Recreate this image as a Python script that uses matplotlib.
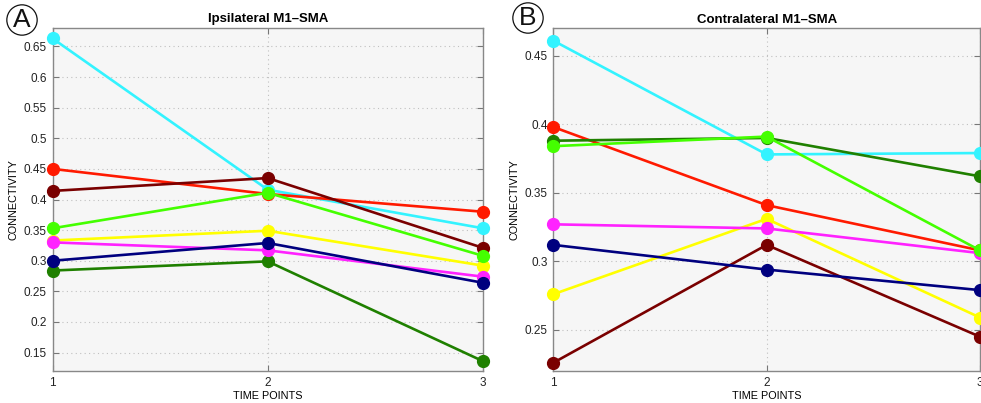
import matplotlib
matplotlib.use("Agg")
import matplotlib.pyplot as plt

plt.rcParams['font.family'] = ['Liberation Sans', 'DejaVu Sans']

time_points = [1, 2, 3]

series_colors = {
    "cyan": "#33f3ff",
    "red": "#ff1a00",
    "maroon": "#7a0000",
    "darkgreen": "#1f8000",
    "yellow": "#ffff00",
    "magenta": "#ff22ff",
    "navy": "#00007f",
    "lime": "#44ff00",
}

# Ipsilateral M1-SMA connectivity per subject
ipsi_cyan = [0.663, 0.416, 0.353]
ipsi_red = [0.450, 0.409, 0.380]
ipsi_maroon = [0.414, 0.435, 0.321]
ipsi_darkgreen = [0.284, 0.299, 0.136]
ipsi_yellow = [0.333, 0.349, 0.292]
ipsi_magenta = [0.330, 0.317, 0.274]
ipsi_navy = [0.300, 0.329, 0.264]
ipsi_lime = [0.353, 0.411, 0.308]

# Contralateral M1-SMA connectivity per subject
contra_cyan = [0.461, 0.378, 0.379]
contra_red = [0.398, 0.341, 0.308]
contra_maroon = [0.226, 0.312, 0.245]
contra_darkgreen = [0.388, 0.390, 0.362]
contra_yellow = [0.276, 0.331, 0.259]
contra_magenta = [0.327, 0.324, 0.306]
contra_navy = [0.312, 0.294, 0.279]
contra_lime = [0.384, 0.391, 0.308]

ipsi = {"cyan": ipsi_cyan, "red": ipsi_red, "maroon": ipsi_maroon,
        "darkgreen": ipsi_darkgreen, "yellow": ipsi_yellow,
        "magenta": ipsi_magenta, "navy": ipsi_navy, "lime": ipsi_lime}
contra = {"cyan": contra_cyan, "red": contra_red, "maroon": contra_maroon,
          "darkgreen": contra_darkgreen, "yellow": contra_yellow,
          "magenta": contra_magenta, "navy": contra_navy, "lime": contra_lime}

ipsi_ticks = [0.15, 0.2, 0.25, 0.3, 0.35, 0.4, 0.45, 0.5, 0.55, 0.6, 0.65]
contra_ticks = [0.25, 0.3, 0.35, 0.4, 0.45]

fig = plt.figure(figsize=(9.81, 4.03), dpi=100)
W, H = 981, 403


def panel(rect_px, data, title, yticks, ylim):
    x0, y0, x1, y1 = rect_px
    ax = fig.add_axes([x0 / W, 1 - y1 / H, (x1 - x0) / W, (y1 - y0) / H])
    ax.set_facecolor("#f6f6f6")
    for name, vals in data.items():
        ax.plot(time_points, vals, color=series_colors[name], lw=1.9,
                marker="o", ms=8.5, mec=series_colors[name], clip_on=False,
                zorder=3)
    ax.set_xlim(1, 3)
    ax.set_ylim(*ylim)
    ax.set_xticks(time_points)
    ax.set_xticklabels([str(t) for t in time_points])
    ax.set_yticks(yticks)
    ax.set_yticklabels([f"{t:g}" for t in yticks])
    ax.grid(True, linestyle=(0, (1, 3)), color="#c0c0c0", lw=0.8)
    ax.tick_params(direction="in", length=4, width=0.8, color="#777777",
                   labelsize=8.5, labelcolor="#222222", top=True, right=True,
                   pad=4)
    for sp in ax.spines.values():
        sp.set_color("#888888")
        sp.set_linewidth(1.0)
    ax.set_title(title, fontsize=9.5, fontweight="bold", pad=4)
    ax.set_xlabel("TIME POINTS", fontsize=7.8, labelpad=2)
    ax.set_ylabel("CONNECTIVITY", fontsize=7.8, labelpad=4)
    return ax


panel((52.5, 28, 483, 371), ipsi, "Ipsilateral M1\u2013SMA",
      ipsi_ticks, (0.12, 0.68))
panel((553.3, 28.3, 980, 371), contra, "Contralateral M1\u2013SMA",
      contra_ticks, (0.22, 0.47))

for label, (cx, cy) in (("A", (22, 20)), ("B", (528, 18))):
    fig.text(cx / W, 1 - cy / H, label, fontsize=19, ha="center",
             va="center", color="#111111",
             bbox=dict(boxstyle="circle,pad=0.12", fc="white",
                       ec="#111111", lw=0.9))

fig.savefig("out.png", dpi=100)
